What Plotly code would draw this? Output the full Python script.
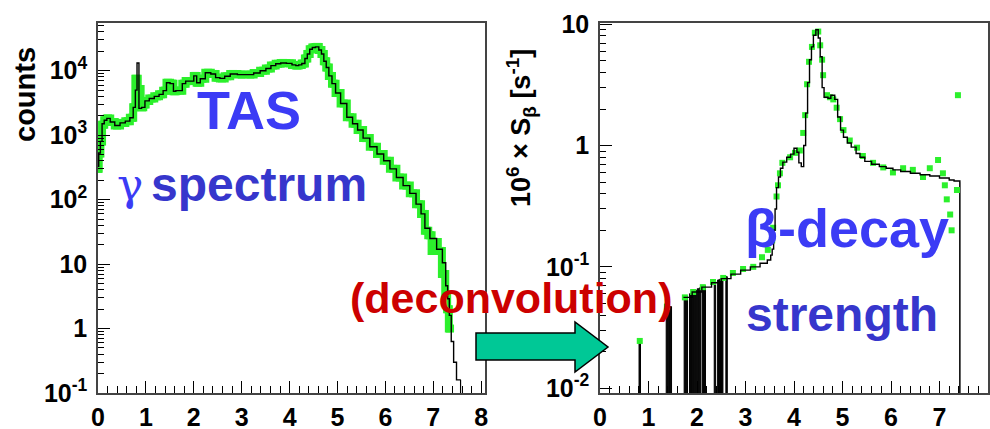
import plotly.graph_objects as go

# ---------------- data: left panel (TAS gamma spectrum) ----------------
tas_fit_energy = [0.00, 0.03, 0.07, 0.10, 0.16, 0.21, 0.30, 0.40, 0.52, 0.62, 0.71, 0.76,
                  0.80, 0.83, 0.88, 0.94, 1.02, 1.12, 1.23, 1.32, 1.40, 1.46, 1.55, 1.60,
                  1.65, 1.72, 1.80, 1.86, 1.97, 2.03, 2.09, 2.18, 2.30, 2.41, 2.50, 2.59,
                  2.70, 2.82, 3.00, 3.18, 3.32, 3.45, 3.56, 3.66, 3.76, 3.87, 4.00, 4.10,
                  4.16, 4.22, 4.29, 4.35, 4.39, 4.45, 4.50, 4.58, 4.64, 4.69, 4.74, 4.79,
                  4.85, 4.92, 5.00, 5.13, 5.26, 5.37, 5.47, 5.60, 5.75, 5.90, 6.03, 6.16,
                  6.30, 6.44, 6.58, 6.70, 6.79, 6.86, 7.00, 7.14, 7.24, 7.28, 7.32, 7.35,
                  7.40, 7.45, 7.52, 7.57]
tas_fit_counts = [330, 530, 800, 1500, 1700, 1820, 1600, 1410, 1550, 1650, 1860, 2700,
                  5000, 13200, 2600, 2700, 3400, 3700, 4000, 4300, 4900, 6500, 6300, 4800,
                  4900, 4900, 6300, 6900, 6900, 8300, 6500, 7500, 9300, 8900, 7800, 7600,
                  8200, 8900, 8700, 8700, 9200, 10000, 10800, 12000, 12800, 13200, 13000, 12300,
                  12000, 12300, 12900, 15500, 18200, 21500, 22900, 23400, 21000, 18200, 14000, 11200,
                  8300, 6300, 4500, 3100, 1900, 1500, 1200, 900, 660, 510, 400, 300,
                  220, 165, 125, 85, 60, 36, 25, 17, 10.5, 4.6, 2.9, 1.6,
                  0.63, 0.30, 0.16, 0.16]

tas_data_energy = [0.00, 0.03, 0.07, 0.10, 0.16, 0.21, 0.30, 0.40, 0.52, 0.62, 0.71, 0.76,
                   0.80, 0.86, 0.92, 0.97, 1.02, 1.12, 1.23, 1.32, 1.40, 1.46, 1.55, 1.60,
                   1.65, 1.72, 1.80, 1.86, 1.97, 2.03, 2.09, 2.18, 2.30, 2.41, 2.50, 2.59,
                   2.70, 2.82, 3.00, 3.18, 3.32, 3.45, 3.56, 3.66, 3.76, 3.87, 4.00, 4.10,
                   4.16, 4.22, 4.29, 4.35, 4.39, 4.45, 4.50, 4.58, 4.64, 4.69, 4.74, 4.79,
                   4.85, 4.92, 5.00, 5.13, 5.26, 5.37, 5.47, 5.60, 5.75, 5.90, 6.03, 6.16,
                   6.30, 6.44, 6.58, 6.70, 6.79, 6.86, 6.93, 7.00, 7.05, 7.14, 7.22, 7.28,
                   7.30, 7.35]
tas_data_counts = [300, 520, 800, 1450, 1700, 1820, 1600, 1410, 1550, 1650, 1860, 2700,
                   7500, 5200, 2700, 3000, 3400, 3700, 4000, 4300, 4900, 6500, 6300, 4800,
                   4900, 4900, 6300, 6900, 6900, 8300, 6500, 7500, 9300, 8900, 7800, 7600,
                   8200, 8900, 8700, 8700, 9200, 10000, 10800, 12000, 12800, 13200, 13000, 12300,
                   12000, 12300, 12900, 15500, 18200, 21500, 22900, 23400, 21000, 18200, 14000, 11200,
                   8300, 6300, 4500, 3100, 1900, 1500, 1200, 900, 660, 510, 400, 300,
                   220, 165, 125, 85, 60, 33, 28, 16, 22, 16, 7, 3.2,
                   2.0, 1.0]

# ---------------- data: right panel (beta-decay strength) ----------------
sb_fit_energy = [1.72, 1.90, 2.10, 2.30, 2.50, 2.70, 2.90, 3.10, 3.30, 3.45, 3.52, 3.55,
                 3.58, 3.61, 3.64, 3.68, 3.72, 3.77, 3.85, 3.93, 4.00, 4.06, 4.10, 4.15,
                 4.20, 4.24, 4.28, 4.32, 4.36, 4.40, 4.45, 4.50, 4.54, 4.58, 4.62, 4.70,
                 4.76, 4.84, 4.90, 4.96, 5.02, 5.10, 5.18, 5.28, 5.36, 5.46, 5.60, 5.76,
                 5.90, 6.04, 6.20, 6.40, 6.60, 6.80, 7.00, 7.20, 7.30, 7.42]
sb_fit_value = [0.056, 0.062, 0.068, 0.074, 0.080, 0.087, 0.094, 0.100, 0.107, 0.114, 0.125, 0.14,
                0.20, 0.30, 0.45, 0.55, 0.65, 0.73, 0.80, 0.85, 0.95, 0.88, 0.72, 0.67,
                1.0, 1.85, 3.3, 5.1, 6.5, 8.1, 9.0, 7.7, 5.4, 3.0, 2.5, 2.45,
                2.6, 2.4, 1.72, 1.34, 1.17, 1.05, 0.97, 0.86, 0.80, 0.74, 0.70, 0.67,
                0.65, 0.63, 0.61, 0.59, 0.575, 0.56, 0.54, 0.52, 0.51, 0.50]

# isolated low-energy bins (neighbouring bins empty)
sb_bin_energy = [0.82, 1.38, 1.42, 1.46, 1.75, 1.79, 1.86, 1.90, 1.94, 1.98, 2.02, 2.06,
                 2.12, 2.16, 2.37, 2.44, 2.48, 2.52, 2.61]
sb_bin_value = [0.0245, 0.047, 0.047, 0.047, 0.056, 0.057, 0.060, 0.062, 0.063, 0.064, 0.066, 0.067,
                0.069, 0.070, 0.076, 0.078, 0.079, 0.080, 0.083]

sb_data_energy = [0.82, 1.38, 1.75, 1.92, 2.12, 2.33, 2.54, 2.74, 2.95, 3.16, 3.34, 3.46,
                  3.55, 3.57, 3.64, 3.67, 3.71, 3.76, 3.92, 4.02, 4.12, 4.19, 4.23, 4.27,
                  4.31, 4.37, 4.43, 4.50, 4.54, 4.58, 4.60, 4.68, 4.74, 4.81, 4.88, 4.95,
                  5.02, 5.15, 5.30, 5.42, 5.63, 5.84, 6.04, 6.25, 6.45, 6.66, 6.80, 6.97,
                  7.07, 7.11, 7.15, 7.22, 7.25, 7.36, 7.38]
sb_data_value = [0.0245, 0.047, 0.056, 0.062, 0.068, 0.075, 0.081, 0.089, 0.096, 0.10, 0.12, 0.138,
                 0.165, 0.21, 0.38, 0.47, 0.59, 0.72, 0.80, 0.87, 0.91, 1.27, 1.78, 3.2,
                 4.9, 6.5, 8.5, 8.7, 6.7, 5.1, 3.8, 2.6, 2.5, 2.4, 2.05, 1.65,
                 1.34, 1.1, 0.96, 0.82, 0.72, 0.66, 0.60, 0.65, 0.63, 0.55, 0.65, 0.76,
                 0.59, 0.47, 0.36, 0.27, 0.20, 0.43, 2.6]

x_ticks = [0, 1, 2, 3, 4, 5, 6, 7, 8]
left_y_ticks = [0.1, 1, 10, 100, 1000, 10000]
left_y_text = ["10<sup>-1</sup>", "1", "10", "10<sup>2</sup>", "10<sup>3</sup>", "10<sup>4</sup>"]
right_y_ticks = [0.01, 0.1, 1, 10]
right_y_text = ["10<sup>-2</sup>", "10<sup>-1</sup>", "1", "10"]

# ---------------- figure ----------------
W, H = 990, 429
GREEN = "#2cf02c"
FONT = "Liberation Sans"


def px(x):
    return x / W


def py(y):
    return 1 - y / H


fig = go.Figure()

# left panel
fig.add_trace(go.Scatter(x=tas_data_energy, y=tas_data_counts, mode="lines+markers",
                         line=dict(color=GREEN, width=8, shape="hvh"),
                         marker=dict(symbol="square", size=8, color=GREEN),
                         xaxis="x", yaxis="y", showlegend=False))
fig.add_trace(go.Scatter(x=tas_fit_energy, y=tas_fit_counts, mode="lines",
                         line=dict(color="black", width=1.4, shape="hvh"),
                         xaxis="x", yaxis="y", showlegend=False))
fig.add_trace(go.Bar(x=[tas_fit_energy[-1]], y=[tas_fit_counts[-1]], width=0.004,
                     marker=dict(color="black", line=dict(color="black", width=1)),
                     xaxis="x", yaxis="y", showlegend=False))

# right panel
fig.add_trace(go.Bar(x=sb_bin_energy + [sb_fit_energy[-1]], y=sb_bin_value + [sb_fit_value[-1]],
                     width=[0.03] * len(sb_bin_energy) + [0.004],
                     marker=dict(color="black", line=dict(color="black", width=1)),
                     xaxis="x2", yaxis="y2", showlegend=False))
fig.add_trace(go.Scatter(x=sb_data_energy, y=sb_data_value, mode="markers",
                         marker=dict(symbol="square", size=6, color=GREEN),
                         xaxis="x2", yaxis="y2", showlegend=False))
fig.add_trace(go.Scatter(x=sb_fit_energy, y=sb_fit_value, mode="lines",
                         line=dict(color="black", width=1.4, shape="hv"),
                         xaxis="x2", yaxis="y2", showlegend=False))


def log_minor(lo, hi):
    vals = []
    for e in range(lo, hi + 1):
        for m in range(2, 10):
            vals.append(m * 10.0 ** e)
    return vals


tickfont = dict(family=FONT, size=25, color="black", weight="bold")
frame = dict(showline=True, mirror=True, linecolor="#444444", linewidth=1.5, automargin=False,
             ticks="inside", tickcolor="black", tickwidth=1, showgrid=False, zeroline=False)

ydom = [py(393), py(23)]
fig.update_layout(
    width=W, height=H,
    margin=dict(l=0, r=0, t=0, b=0, pad=0),
    paper_bgcolor="white", plot_bgcolor="white",
    barmode="overlay",
    xaxis=dict(domain=[px(98), px(485)], range=[0, 8.08], tickmode="array", tickvals=x_ticks,
               ticklen=12, tickfont=tickfont, ticklabelstandoff=1,
               minor=dict(dtick=0.2, tick0=0, ticklen=7, ticks="inside", tickcolor="black", showgrid=False),
               anchor="y", **frame),
    yaxis=dict(domain=ydom, type="log", range=[-1, 4.74], tickmode="array",
               tickvals=left_y_ticks, ticktext=left_y_text, ticklen=12, tickfont=tickfont,
               ticklabelstandoff=4,
               minor=dict(tickmode="array", tickvals=log_minor(-1, 4), ticklen=6, ticks="inside",
                          tickcolor="black", showgrid=False),
               anchor="x", **frame),
    xaxis2=dict(domain=[px(600), px(988)], range=[0, 8], tickmode="array", tickvals=x_ticks,
                ticklen=12, tickfont=tickfont, ticklabelstandoff=1,
                minor=dict(dtick=0.2, tick0=0, ticklen=7, ticks="inside", tickcolor="black", showgrid=False),
                anchor="y2", **frame),
    yaxis2=dict(domain=ydom, type="log", range=[-2.04, 1.01], tickmode="array",
                tickvals=right_y_ticks, ticktext=right_y_text, ticklen=12, tickfont=tickfont,
                ticklabelstandoff=4,
                minor=dict(tickmode="array", tickvals=log_minor(-2, 0), ticklen=6, ticks="inside",
                           tickcolor="black", showgrid=False),
                anchor="x2", **frame),
)

# arrow (decoration)
arrow_pts = [(476, 333), (575, 333), (575, 322), (608, 347), (575, 372), (575, 360), (476, 360)]
path = "M " + " L ".join(f"{px(a):.5f} {py(b):.5f}" for a, b in arrow_pts) + " Z"
fig.add_shape(type="path", path=path, xref="paper", yref="paper",
              fillcolor="#00c896", line=dict(color="black", width=1.5), layer="above")


def note(text, x, y, size, color, angle=0, weight="bold", family=FONT):
    fig.add_annotation(text=text, x=px(x), y=py(y), xref="paper", yref="paper",
                       showarrow=False, xanchor="center", yanchor="middle", textangle=angle,
                       font=dict(family=family, size=size, color=color, weight=weight))


note("counts", 25, 95, 29, "black", angle=-90)
note("10<sup>6</sup> × S<sub>β</sub> [s<sup>-1</sup>]", 521, 128, 27, "black", angle=-90)
note("TAS", 249, 110, 54, "#3b3bf5")
note("γ", 130, 185, 44, "#3b3bf5", weight="normal", family="DejaVu Serif")
note("spectrum", 259, 184, 48, "#3636cc")
note("(deconvolution)", 511, 298, 43, "#cc0000")
note("β-decay", 847, 228, 54, "#3b3bf5")
note("strength", 842, 314, 48, "#3636cc")

fig.write_html("out.html", config={"displayModeBar": False},
               post_script="document.body.style.margin='0';document.body.style.overflow='hidden';")
